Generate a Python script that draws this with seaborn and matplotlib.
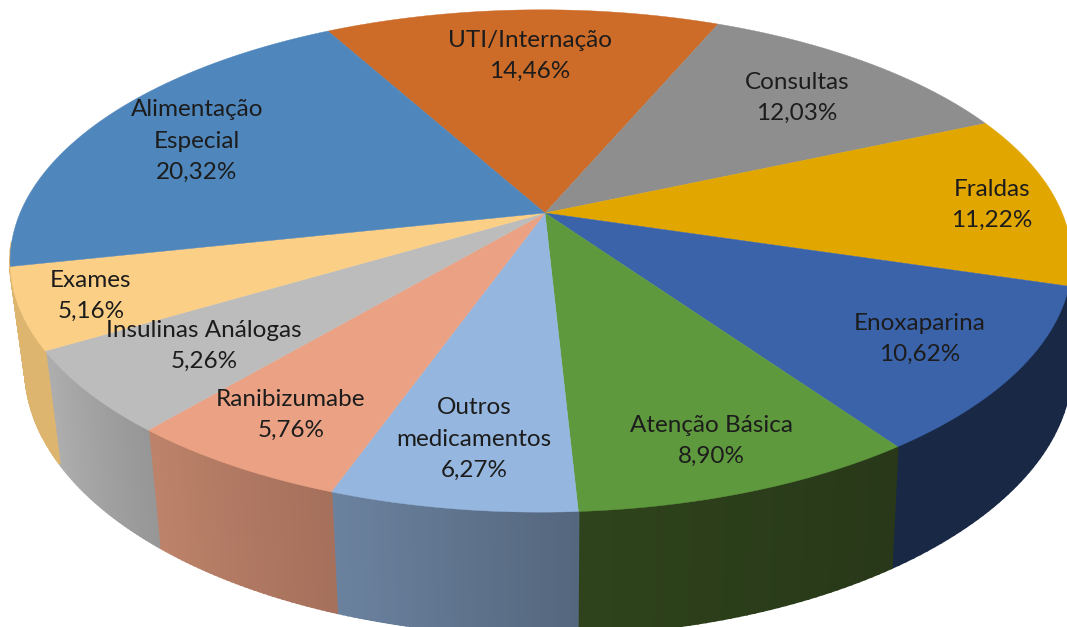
import numpy as np
import seaborn as sns
import matplotlib.pyplot as plt

categories = ["UTI/Internação", "Consultas", "Fraldas", "Enoxaparina", "Atenção Básica",
              "Outros\nmedicamentos", "Ranibizumabe", "Insulinas Análogas", "Exames",
              "Alimentação\nEspecial"]
values = [14.46, 12.03, 11.22, 10.62, 8.90, 6.27, 5.76, 5.26, 5.16, 20.32]

top_colors = ["#CD6B28", "#8E8E8E", "#E1A600", "#3B63AA", "#5F993E",
              "#95B6DE", "#EBA284", "#BCBCBC", "#FBCF85", "#4F86BC"]
# the last one sits behind the exames wall, the blue rim never shows in the picture
wall_left = ["#7A4018", "#555555", "#866300", "#182845", "#2E431B",
             "#6B829F", "#BE836A", "#AFAFAF", "#DDB56F", "#DDB56F"]
wall_right = ["#7A4018", "#555555", "#866300", "#182845", "#283819",
              "#55677E", "#A5705C", "#979797", "#DDB56F", "#DDB56F"]

# label centres in picture pixels
label_x = [530, 797, 992, 920, 711, 474, 291, 204, 91, 197]
label_y = [56, 98, 205, 339, 441, 439, 415, 346, 296, 141]

# perspective of the pie top and of the lower rim
CX, CY = 545, 213
A, B = 521, 242
K, J = 0.191, 0.0075
DROP, M, MS = 108, 0.02, -0.008


def project(theta, lower=False):
    t = np.radians(theta)
    u, v = np.cos(t), np.sin(t)
    w = 1 + K * v + J * u
    if lower:
        # right hand rim bulges a little more than the left one
        w = w + M + MS * u - 0.012 * np.clip(u, 0, 1) ** 5
        return CX + A * u / w, CY + (DROP - B * v) / w
    return CX + A * u / w, CY - B * v / w


sns.set_theme(style="white")
plt.rcParams["font.family"] = ["Lato", "DejaVu Sans"]

fig = plt.figure(figsize=(10.67, 6.27), dpi=100)
ax = fig.add_axes([0, 0, 1, 1])

wedges, _ = ax.pie(values, startangle=119, counterclock=False, colors=top_colors)
ax.set_aspect("auto")
ax.set_xlim(0, 1067)
ax.set_ylim(627, 0)
ax.axis("off")

# side walls first, the top covers the rest. back half is skipped so
# nothing leaks round the far rim
for wedge, c1, c2 in zip(wedges, wall_left, wall_right):
    wedge.set_visible(False)
    steps = np.linspace(wedge.theta1, wedge.theta2, 41)
    shades = sns.blend_palette([c1, c2], len(steps) - 1)
    for a, b, shade in zip(steps[:-1], steps[1:], shades):
        if np.sin(np.radians(a)) > -0.1 or np.sin(np.radians(b)) > -0.1:
            continue
        xt, yt = project(np.array([a, b]))
        xb, yb = project(np.array([b, a]), lower=True)
        ax.fill(np.r_[xt, xb], np.r_[yt, yb], color=shade, lw=1.5, zorder=1)

for wedge, color in zip(wedges, top_colors):
    th = np.linspace(wedge.theta1, wedge.theta2, 120)
    xs, ys = project(th)
    ax.fill(np.r_[CX, xs], np.r_[CY, ys], color=color, lw=0.3, zorder=2)

for name, val, x, y in zip(categories, values, label_x, label_y):
    text = name + "\n" + f"{val:.2f}".replace(".", ",") + "%"
    ax.text(x, y, text, ha="center", va="center", fontsize=17.5, linespacing=1.6,
            color="#1c1c1c", zorder=3)

fig.savefig("out.png", dpi=100)
